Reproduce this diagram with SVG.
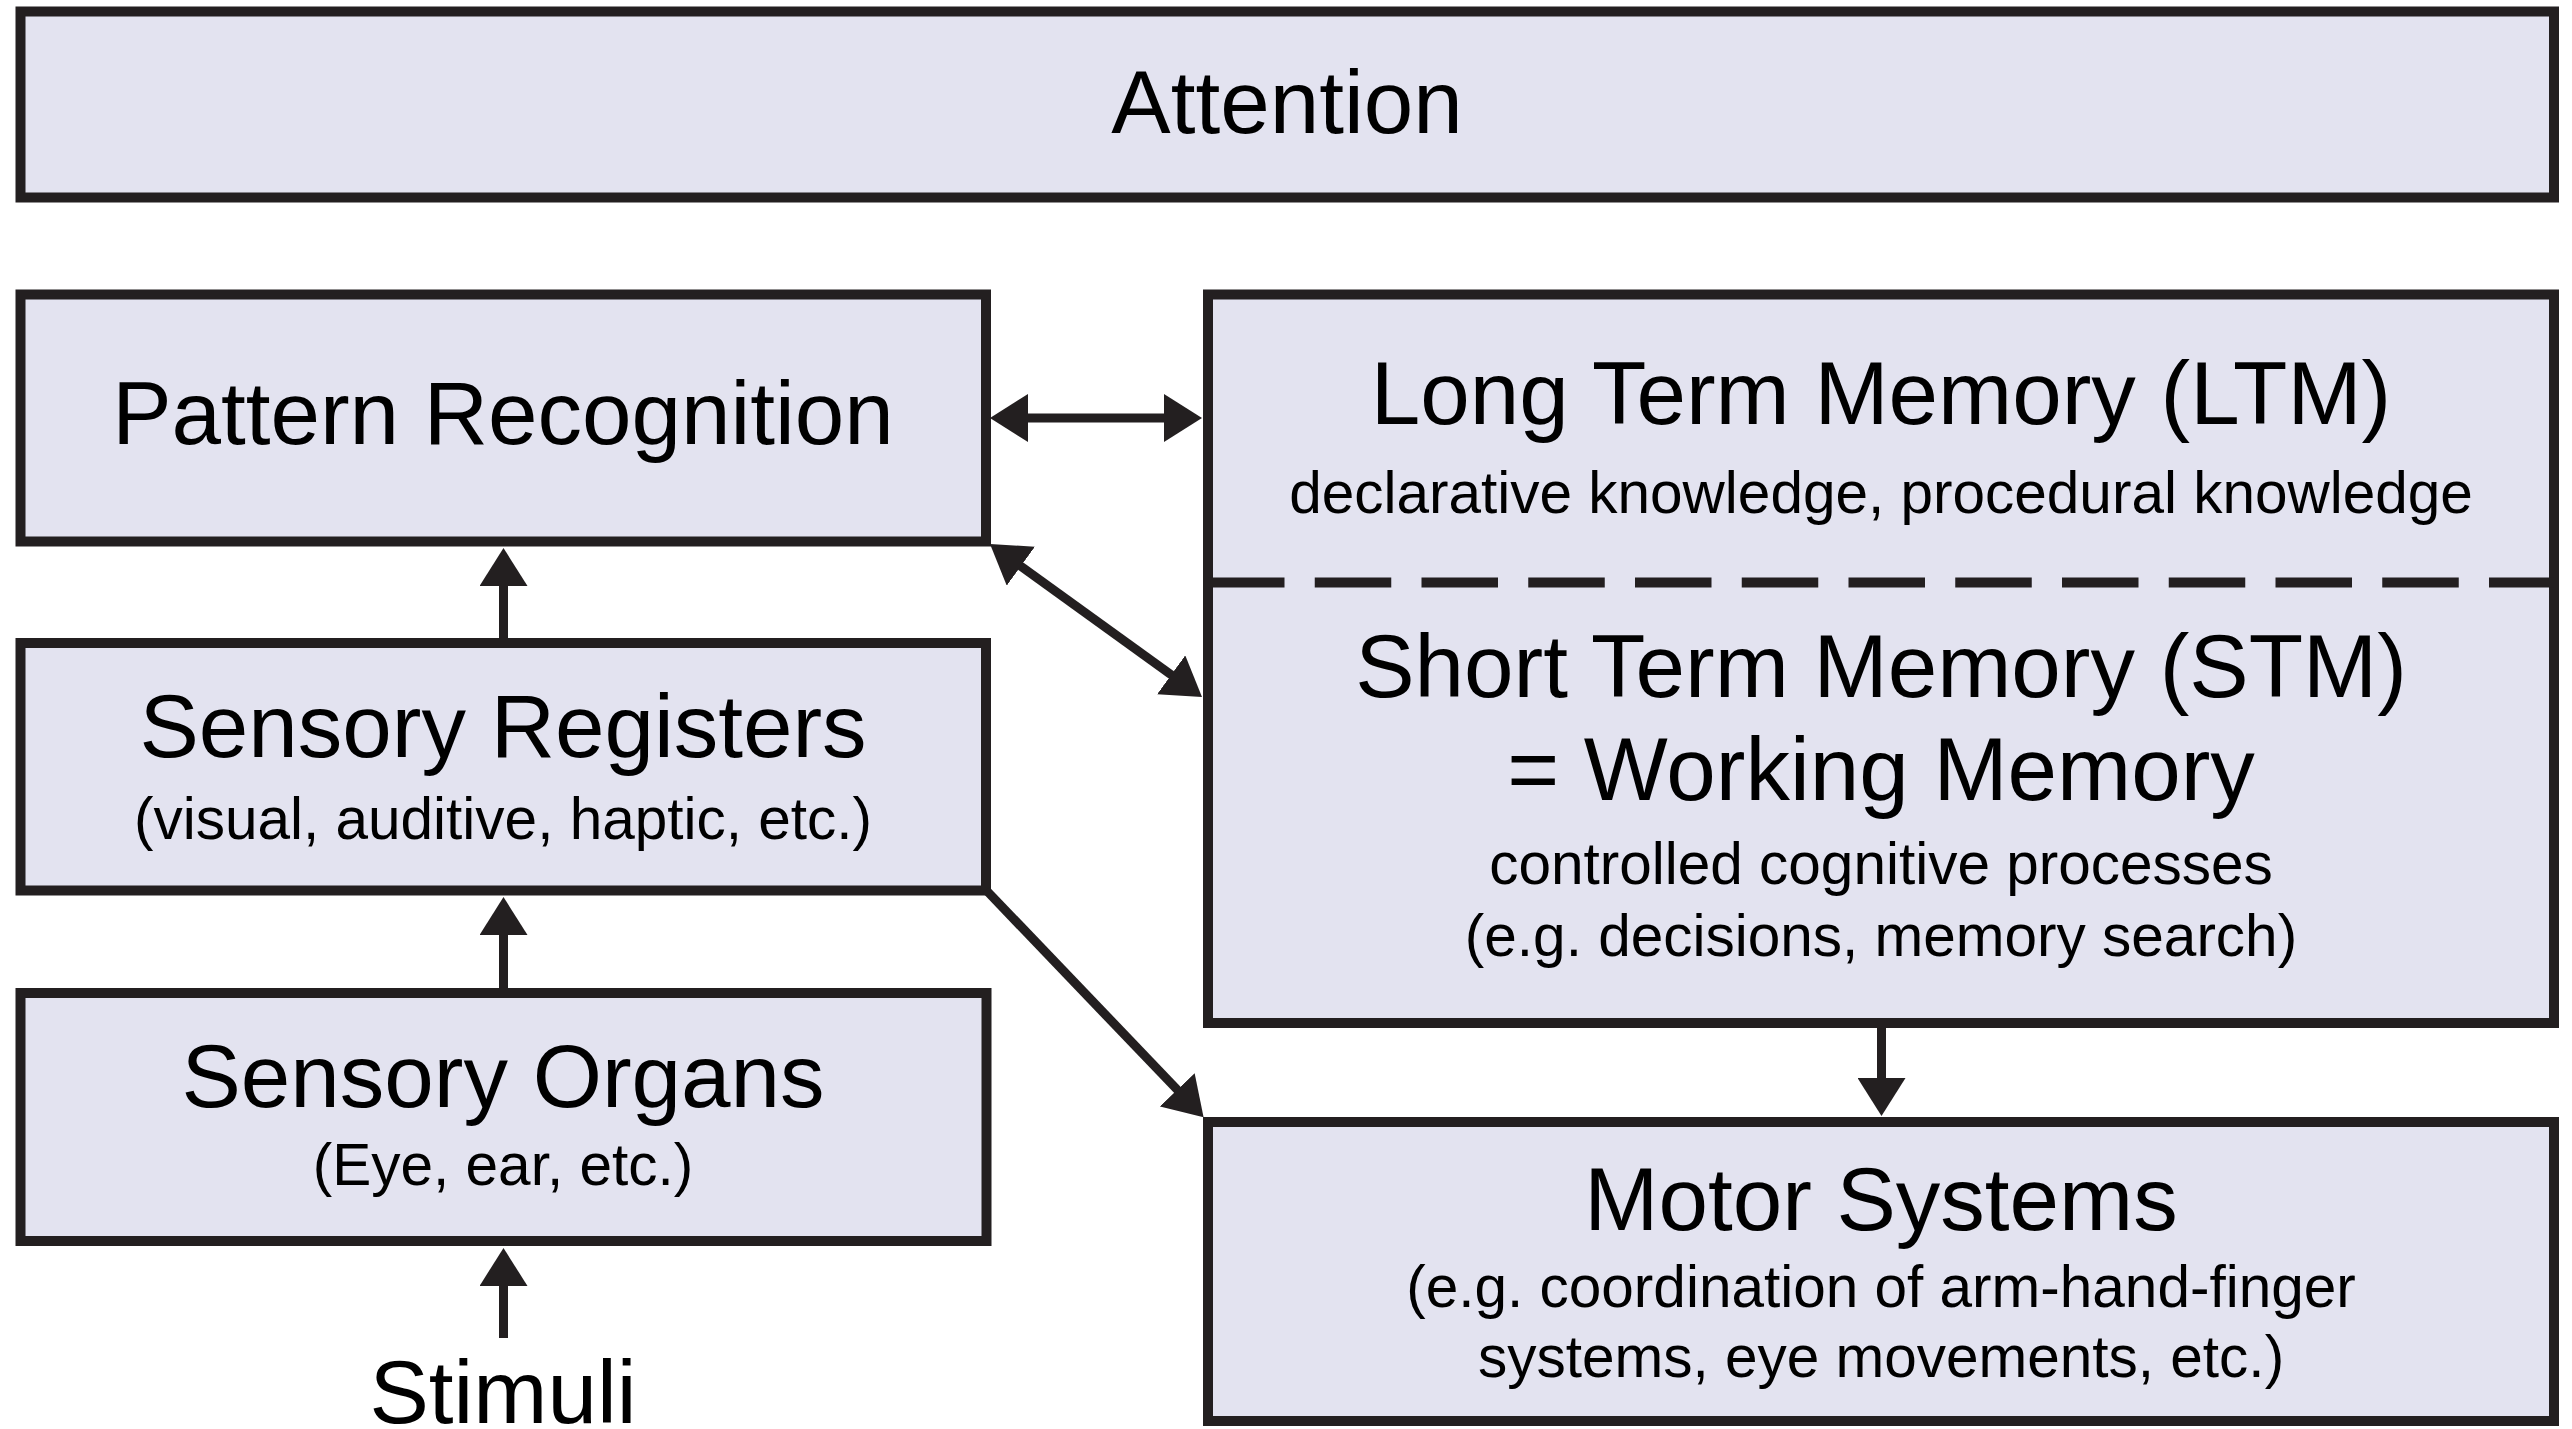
<svg xmlns="http://www.w3.org/2000/svg" width="2572" height="1429" viewBox="0 0 2572 1429">
  <style>
    .box { fill: #e3e3f0; stroke: #231f20; stroke-width: 10; }
    .sep { fill: none; stroke: #231f20; stroke-width: 10; stroke-dasharray: 76.5 30.25; }
    .link { fill: none; stroke: #231f20; stroke-width: 9; }
    .title { font-family: "Liberation Sans", Arial, Helvetica, sans-serif; font-size: 89px; fill: #000; text-anchor: middle; }
    .sub { font-family: "Liberation Sans", Arial, Helvetica, sans-serif; font-size: 58.5px; fill: #000; text-anchor: middle; }
  </style>
  <defs>
    <marker id="head" markerUnits="userSpaceOnUse" viewBox="0 0 38 48" markerWidth="38" markerHeight="48" refX="1" refY="24" orient="auto-start-reverse">
      <path d="M0,0 L38,24 L0,48 Z" fill="#231f20"/>
    </marker>
  </defs>

  <rect width="2572" height="1429" fill="#ffffff"/>

  <g id="attention">
    <rect class="box" x="20.5" y="11.5" width="2533.5" height="186"/>
    <text class="title" x="1287" y="133">Attention</text>
  </g>

  <g id="pattern-recognition">
    <rect class="box" x="20.5" y="294.5" width="965.5" height="247"/>
    <text class="title" x="503" y="444">Pattern Recognition</text>
  </g>

  <g id="sensory-registers">
    <rect class="box" x="20.5" y="643" width="965.5" height="247.5"/>
    <text class="title" x="503" y="757">Sensory Registers</text>
    <text class="sub" x="503" y="839">(visual, auditive, haptic, etc.)</text>
  </g>

  <g id="sensory-organs">
    <rect class="box" x="20.5" y="993" width="966" height="248"/>
    <text class="title" x="503" y="1107">Sensory Organs</text>
    <text class="sub" x="503" y="1185">(Eye, ear, etc.)</text>
  </g>

  <g id="memory">
    <rect class="box" x="1208" y="294.5" width="1346" height="728.5"/>
    <line class="sep" x1="1208" y1="582.5" x2="2554" y2="582.5"/>
    <text class="title" x="1881" y="424">Long Term Memory (LTM)</text>
    <text class="sub" x="1881" y="513">declarative knowledge, procedural knowledge</text>
    <text class="title" x="1881" y="697">Short Term Memory (STM)</text>
    <text class="title" x="1881" y="800">= Working Memory</text>
    <text class="sub" x="1881" y="884">controlled cognitive processes</text>
    <text class="sub" x="1881" y="956">(e.g. decisions, memory search)</text>
  </g>

  <g id="motor-systems">
    <rect class="box" x="1208" y="1122" width="1346" height="299"/>
    <text class="title" x="1881" y="1230">Motor Systems</text>
    <text class="sub" x="1881" y="1307">(e.g. coordination of arm-hand-finger</text>
    <text class="sub" x="1881" y="1377">systems, eye movements, etc.)</text>
  </g>

  <g id="stimuli">
    <text class="title" x="503" y="1423">Stimuli</text>
  </g>

  <g id="connectors">
    <!-- pattern recognition <-> long term memory -->
    <line class="link" x1="1027" y1="418" x2="1165" y2="418" marker-start="url(#head)" marker-end="url(#head)"/>
    <!-- pattern recognition <-> short term memory -->
    <line class="link" x1="1020" y1="565.6" x2="1172" y2="675.4" marker-start="url(#head)" marker-end="url(#head)"/>
    <!-- sensory registers -> motor systems -->
    <line class="link" x1="986" y1="890" x2="1178" y2="1090.5" marker-end="url(#head)"/>
    <!-- short term memory -> motor systems -->
    <line class="link" x1="1881.5" y1="1023" x2="1881.5" y2="1079" marker-end="url(#head)"/>
    <!-- sensory registers -> pattern recognition -->
    <line class="link" x1="503.5" y1="643" x2="503.5" y2="585" marker-end="url(#head)"/>
    <!-- sensory organs -> sensory registers -->
    <line class="link" x1="503.5" y1="993" x2="503.5" y2="934" marker-end="url(#head)"/>
    <!-- stimuli -> sensory organs -->
    <line class="link" x1="503.5" y1="1338" x2="503.5" y2="1285" marker-end="url(#head)"/>
  </g>
</svg>
